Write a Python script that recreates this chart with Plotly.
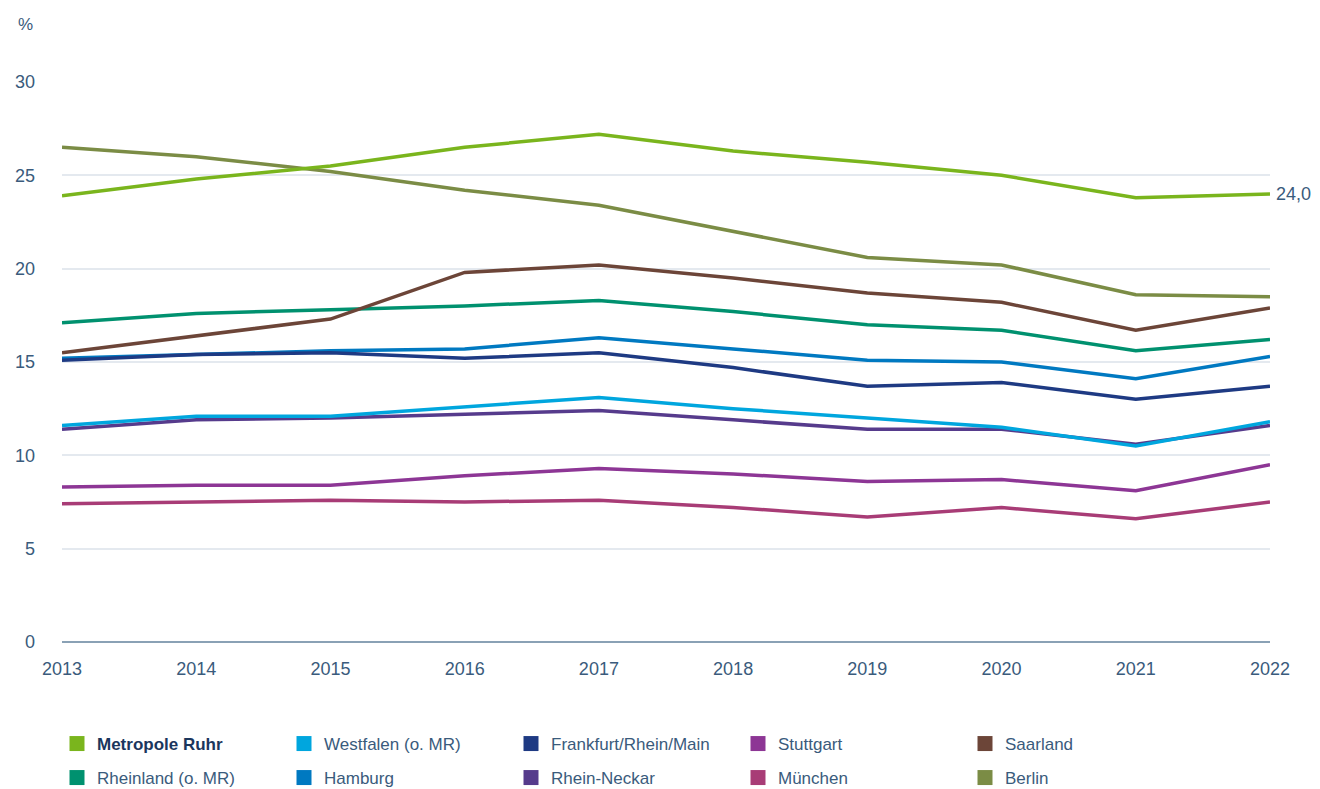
import plotly.graph_objects as go

years = [2013, 2014, 2015, 2016, 2017, 2018, 2019, 2020, 2021, 2022]

metropole_ruhr = [23.9, 24.8, 25.5, 26.5, 27.2, 26.3, 25.7, 25.0, 23.8, 24.0]
westfalen      = [11.6, 12.1, 12.1, 12.6, 13.1, 12.5, 12.0, 11.5, 10.5, 11.8]
frankfurt      = [15.1, 15.4, 15.5, 15.2, 15.5, 14.7, 13.7, 13.9, 13.0, 13.7]
stuttgart      = [8.3, 8.4, 8.4, 8.9, 9.3, 9.0, 8.6, 8.7, 8.1, 9.5]
saarland       = [15.5, 16.4, 17.3, 19.8, 20.2, 19.5, 18.7, 18.2, 16.7, 17.9]
rheinland      = [17.1, 17.6, 17.8, 18.0, 18.3, 17.7, 17.0, 16.7, 15.6, 16.2]
hamburg        = [15.2, 15.4, 15.6, 15.7, 16.3, 15.7, 15.1, 15.0, 14.1, 15.3]
rhein_neckar   = [11.4, 11.9, 12.0, 12.2, 12.4, 11.9, 11.4, 11.4, 10.6, 11.6]
muenchen       = [7.4, 7.5, 7.6, 7.5, 7.6, 7.2, 6.7, 7.2, 6.6, 7.5]
berlin         = [26.5, 26.0, 25.2, 24.2, 23.4, 22.0, 20.6, 20.2, 18.6, 18.5]

y_ticks = [0, 5, 10, 15, 20, 25, 30]
end_label = "24,0"

# (legend label, values, colour, legend row)
series = [
    ("<span style='color:#1b365d'><b>Metropole Ruhr</b></span>", metropole_ruhr, "#7ab51d", "legend"),
    ("Westfalen (o. MR)", westfalen, "#00a6de", "legend"),
    ("Frankfurt/Rhein/Main", frankfurt, "#1e3a83", "legend"),
    ("Stuttgart", stuttgart, "#8d3695", "legend"),
    ("Saarland", saarland, "#6c4538", "legend"),
    ("Rheinland (o. MR)", rheinland, "#00916f", "legend2"),
    ("Hamburg", hamburg, "#0079c1", "legend2"),
    ("Rhein-Neckar", rhein_neckar, "#563b8c", "legend2"),
    ("München", muenchen, "#a83c76", "legend2"),
    ("Berlin", berlin, "#7b8c45", "legend2"),
]

text_color = "#3a5b7c"
font_family = "Liberation Sans, Arial, sans-serif"

fig = go.Figure()

# lines (drawn in reverse so Metropole Ruhr is on top)
for name, vals, col, lg in reversed(series):
    fig.add_trace(go.Scatter(
        x=years, y=vals, mode="lines", name=name,
        line=dict(color=col, width=3.5),
        showlegend=False, hoverinfo="x+y",
    ))

# legend entries with square markers
for name, vals, col, lg in series:
    fig.add_trace(go.Scatter(
        x=[None], y=[None], mode="markers", name=name, legend=lg,
        marker=dict(symbol="square", size=15, color=col),
        showlegend=True,
    ))

fig.add_annotation(
    x=years[-1], y=metropole_ruhr[-1], xref="x", yref="y",
    text=end_label, showarrow=False, xanchor="left", yanchor="middle",
    xshift=4, font=dict(size=18, color=text_color, family=font_family),
)
fig.add_annotation(
    x=-0.0306, y=1.102, xref="paper", yref="paper", text="%", showarrow=False,
    xanchor="center", yanchor="middle",
    font=dict(size=17, color=text_color, family=font_family),
)

W, H = 1312, 781
legend_common = dict(
    orientation="h", xref="container", yref="container",
    xanchor="left", yanchor="top",
    entrywidth=182, entrywidthmode="pixels", itemsizing="trace",
    font=dict(size=17, color=text_color, family=font_family),
    itemclick=False, itemdoubleclick=False, bgcolor="rgba(0,0,0,0)",
)

fig.update_layout(
    width=W, height=H,
    margin=dict(l=54, r=50, t=74, b=147, autoexpand=False),
    paper_bgcolor="white", plot_bgcolor="white",
    font=dict(family=font_family, size=17, color=text_color),
    xaxis=dict(
        range=[years[0], years[-1]], tickmode="array", tickvals=years,
        ticktext=[str(y) for y in years], showgrid=False, zeroline=False,
        showline=False, ticks="", ticklabelstandoff=14, automargin=False,
        tickfont=dict(size=18, color=text_color),
    ),
    yaxis=dict(
        range=[0, 30], tickmode="array", tickvals=y_ticks,
        showgrid=True, gridcolor="#e4e9ef", gridwidth=1.5,
        zeroline=True, zerolinecolor="#8aa1b5", zerolinewidth=1.5,
        showline=False, ticks="", ticklabelstandoff=26, automargin=False,
        tickfont=dict(size=18, color=text_color),
    ),
    legend=dict(x=49 / W, y=1 - 718 / H, **legend_common),
    legend2=dict(x=49 / W, y=1 - 752 / H, **legend_common),
    showlegend=True,
)

fig.write_html("out.html")
